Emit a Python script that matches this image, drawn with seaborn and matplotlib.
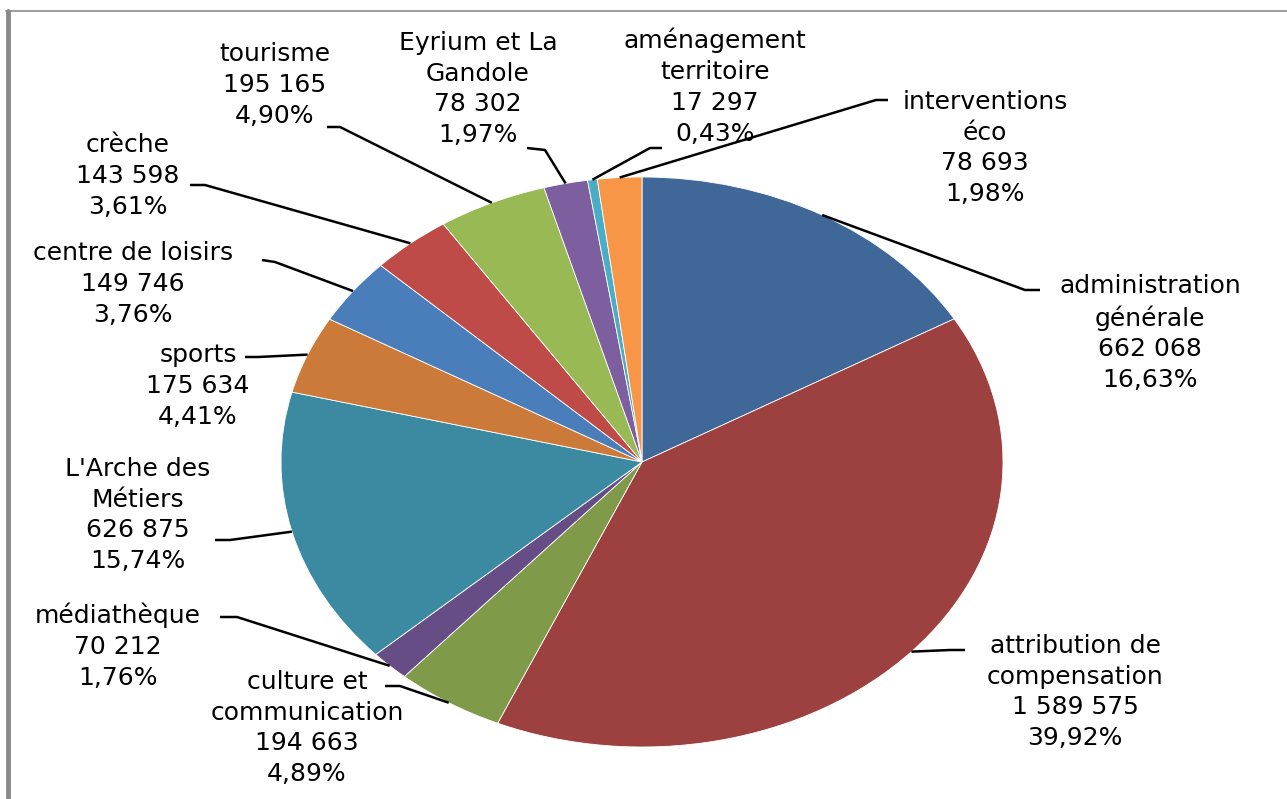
import matplotlib
matplotlib.use("Agg")
import matplotlib.pyplot as plt
import seaborn as sns
import numpy as np

# data
categories = ["administration\ngénérale", "attribution de\ncompensation", "culture et\ncommunication",
              "médiathèque", "L'Arche des\nMétiers", "sports", "centre de loisirs", "crèche",
              "tourisme", "Eyrium et La\nGandole", "aménagement\nterritoire", "interventions\néco"]
values = [662068, 1589575, 194663, 70212, 626875, 175634, 149746, 143598, 195165, 78302, 17297, 78693]
colors = ["#3F6797", "#9D4140", "#7F9A48", "#664D85", "#3B8AA1", "#CC7A39",
          "#4A7EBB", "#BE4B48", "#98B954", "#7D5FA0", "#4BACC6", "#F79646"]

sns.set_theme(style="white")
plt.rcParams["font.family"] = ["DejaVu Sans"]

W, H = 1287, 799
fig = plt.figure(figsize=(W / 100, H / 100), dpi=100)
ax = fig.add_axes([0, 0, 1, 1])

# ellipse geometry in pixels (centre and radii)
cx, cy, rx, ry = 642, 462, 361, 285


def px(x, y):
    return (x - cx) / rx, (cy - y) / ry


wedges, _ = ax.pie(values, colors=colors, startangle=90, counterclock=False,
                   wedgeprops=dict(edgecolor="white", linewidth=0.6))
ax.set_aspect("auto")
ax.set_xlim(-cx / rx, (W - cx) / rx)
ax.set_ylim(-(H - cy) / ry, cy / ry)
ax.axis("off")

total = sum(values)
# label layout: text centre (px), leader start, leader elbow
layout = [
    ((1150, 333), (1040, 290), (1025, 290)),
    ((1075, 692), (965, 650), (950, 650)),
    ((307, 728), (385, 686), (400, 686)),
    ((118, 646), (220, 617), (237, 617)),
    ((138, 515), (215, 540), (230, 540)),
    ((198, 386), (245, 357), (258, 357)),
    ((133, 284), (262, 260), (275, 262)),
    ((128, 176), (190, 185), (205, 185)),
    ((275, 85), (327, 127), (340, 127)),
    ((478, 89), (527, 148), (545, 150)),
    ((715, 87), (662, 148), (650, 148)),
    ((985, 148), (888, 100), (876, 100)),
]

for w, name, v, (tpos, p0, p1) in zip(wedges, categories, values, layout):
    pct = f"{v / total * 100:.2f}".replace(".", ",") + "%"
    num = f"{v:,}".replace(",", " ")
    tx, ty = px(*tpos)
    ax.text(tx, ty, f"{name}\n{num}\n{pct}", ha="center", va="center",
            fontsize=18, linespacing=1.36, color="black")
    mid = np.deg2rad((w.theta1 + w.theta2) / 2)
    ex, ey = np.cos(mid), np.sin(mid)
    a, b = px(*p0), px(*p1)
    ax.plot([a[0], b[0], ex], [a[1], b[1], ey], color="black", lw=1.8,
            solid_capstyle="butt")

# grey frame on top and left
fig.add_artist(plt.Line2D([6 / W, 1], [1 - 11 / H, 1 - 11 / H], color="#8a8a8a", lw=1.2))
fig.add_artist(plt.Line2D([8 / W, 8 / W], [0, 1 - 11 / H], color="#8a8a8a", lw=3.5))

fig.savefig("out.png", dpi=100)
